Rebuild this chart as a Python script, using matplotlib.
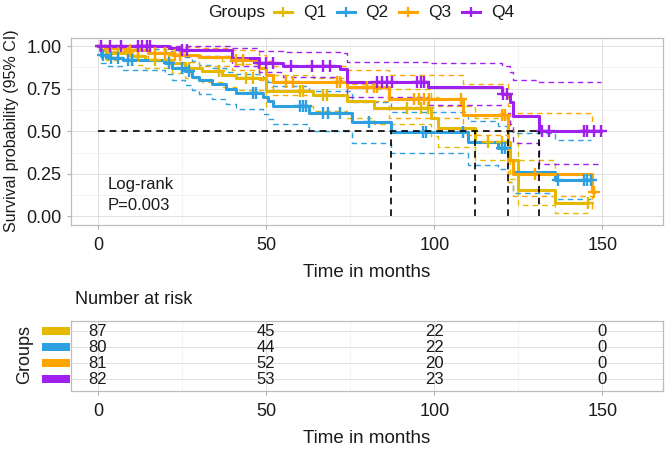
import matplotlib
matplotlib.use("Agg")
import matplotlib.pyplot as plt
import matplotlib.transforms as mtransforms
from matplotlib.patches import Rectangle
import numpy as np

plt.rcParams['font.family'] = ['Liberation Sans', 'DejaVu Sans']

groups = ['Q1', 'Q2', 'Q3', 'Q4']
colors = ['#E7B800', '#2E9FDF', '#FFA500', '#A020F0']

# Q1 step curve (time, survival, 95% CI)
q1_time = [0, 1, 2.5, 10, 14, 22, 26, 31, 37, 41, 50, 64, 74, 82, 99, 101, 112, 122.5, 124.8, 136]
q1_surv = [1.0, 0.975, 0.96, 0.94, 0.92, 0.90, 0.873, 0.853, 0.828, 0.81, 0.735, 0.71, 0.676, 0.635, 0.576, 0.52, 0.437, 0.33, 0.153, 0.078]
q1_lower = [1.0, 0.94, 0.92, 0.89, 0.87, 0.84, 0.81, 0.79, 0.76, 0.74, 0.65, 0.62, 0.58, 0.54, 0.47, 0.41, 0.33, 0.22, 0.07, 0.02]
q1_upper = [1.0, 1.0, 1.0, 0.99, 0.98, 0.965, 0.945, 0.93, 0.91, 0.895, 0.83, 0.81, 0.78, 0.75, 0.70, 0.65, 0.58, 0.50, 0.33, 0.25]
q1_end = 145.6
q1_censor = [4, 6, 9, 12, 17, 21, 27, 36, 44, 46, 60, 61, 67, 68, 92, 96, 98, 116, 120, 145.6]

# Q2
q2_time = [0, 0.5, 1, 3, 7.5, 20, 22, 26, 28, 30, 34, 38, 41, 49, 50.5, 52, 62.7, 75.5, 87, 110, 119, 122, 123.5, 136]
q2_surv = [1.0, 0.975, 0.95, 0.93, 0.92, 0.90, 0.873, 0.853, 0.82, 0.80, 0.775, 0.745, 0.725, 0.70, 0.675, 0.647, 0.61, 0.555, 0.497, 0.437, 0.40, 0.33, 0.26, 0.212]
q2_lower = [1.0, 0.94, 0.90, 0.88, 0.86, 0.835, 0.80, 0.77, 0.74, 0.72, 0.69, 0.66, 0.63, 0.60, 0.57, 0.54, 0.50, 0.43, 0.37, 0.30, 0.28, 0.20, 0.14, 0.10]
q2_upper = [1.0, 1.0, 1.0, 0.99, 0.98, 0.97, 0.95, 0.935, 0.91, 0.89, 0.87, 0.85, 0.835, 0.81, 0.79, 0.765, 0.735, 0.67, 0.615, 0.56, 0.53, 0.50, 0.49, 0.45]
q2_end = 146.5
q2_censor = [1.5, 4, 6, 9, 10, 21, 25, 27, 46, 47, 60, 61, 62, 67, 68.5, 72, 80.5, 96.5, 97.5, 108.5, 120, 121, 136.7, 144.5, 145.5, 146.5]

# Q3
q3_time = [0, 2, 8, 15, 22, 30, 40, 48, 50, 52, 74, 86.5, 108.5, 122, 123.5, 147]
q3_surv = [1.0, 0.99, 0.975, 0.96, 0.95, 0.935, 0.918, 0.87, 0.83, 0.79, 0.76, 0.69, 0.594, 0.33, 0.25, 0.143]
q3_lower = [1.0, 0.97, 0.94, 0.92, 0.905, 0.885, 0.86, 0.80, 0.76, 0.71, 0.68, 0.58, 0.48, 0.20, 0.12, 0.03]
q3_upper = [1.0, 1.0, 1.0, 1.0, 0.995, 0.99, 0.975, 0.945, 0.91, 0.88, 0.86, 0.83, 0.78, 0.65, 0.61, 0.55]
q3_end = 147.5
q3_censor = [1, 9.5, 12, 17, 20, 23, 24.5, 41, 43, 56, 58, 71, 72, 80, 82, 83, 94, 95.5, 97, 98.5, 108, 120, 121, 130, 147.5]

# Q4
q4_time = [0, 21, 24, 40, 48, 55, 72, 74, 98, 120, 122.5, 123.5, 131]
q4_surv = [1.0, 0.986, 0.975, 0.93, 0.90, 0.88, 0.863, 0.79, 0.757, 0.72, 0.67, 0.59, 0.50]
q4_lower = [1.0, 0.96, 0.94, 0.88, 0.845, 0.82, 0.80, 0.70, 0.655, 0.61, 0.54, 0.43, 0.31]
q4_upper = [1.0, 1.0, 1.0, 0.99, 0.97, 0.965, 0.957, 0.907, 0.898, 0.88, 0.85, 0.80, 0.79]
q4_end = 149.5
q4_censor = [1, 3.5, 7, 12, 13, 14.5, 15.5, 25, 26.5, 48, 50, 52, 57.5, 63.5, 67, 69, 83, 84.5, 86, 87.5,
             95, 96, 97, 120.5, 121.5, 132, 134, 144.5, 145.5, 147.5, 149.5]

risk_times = [0, 50, 100, 150]
risk_q1 = [87, 45, 22, 0]
risk_q2 = [80, 44, 22, 0]
risk_q3 = [81, 52, 20, 0]
risk_q4 = [82, 53, 23, 0]

curves = [
    (q1_time, q1_surv, q1_lower, q1_upper, q1_end, q1_censor, risk_q1),
    (q2_time, q2_surv, q2_lower, q2_upper, q2_end, q2_censor, risk_q2),
    (q3_time, q3_surv, q3_lower, q3_upper, q3_end, q3_censor, risk_q3),
    (q4_time, q4_surv, q4_lower, q4_upper, q4_end, q4_censor, risk_q4),
]

grid_major = '#E0E0E0'
grid_minor = '#EEEEEE'
border = '#BDBDBD'
txt = '#1A1A1A'


def step(ax, t, y, end, **kw):
    ax.step(list(t) + [end], list(y) + [y[-1]], where='post', **kw)


def style_axes(ax):
    ax.set_xlim(-8, 168)
    ax.set_xticks(risk_times)
    ax.set_xticks([25, 75, 125], minor=True)
    ax.grid(True, which='major', color=grid_major, lw=0.7)
    ax.grid(True, which='minor', color=grid_minor, lw=0.5)
    ax.set_axisbelow(True)
    for sp in ax.spines.values():
        sp.set_color(border)
        sp.set_linewidth(0.9)
    ax.tick_params(which='major', length=3, width=0.8, color='#B0B0B0',
                   labelsize=13, labelcolor=txt, pad=6)
    ax.tick_params(which='minor', length=0)


fig = plt.figure(figsize=(6.66, 4.53), dpi=100)
W, H = 666, 453
ax = fig.add_axes([71 / W, 1 - 225 / H, 592 / W, 187.5 / H])
style_axes(ax)
ax.tick_params(axis='y', pad=4)
ax.set_ylim(-0.05, 1.05)
ax.set_yticks([0, 0.25, 0.5, 0.75, 1.0])
ax.set_yticklabels(['0.00', '0.25', '0.50', '0.75', '1.00'])
ax.set_yticks([0.125, 0.375, 0.625, 0.875], minor=True)

medians = []
for (t, s, lo, hi, end, cens, _), col in zip(curves, colors):
    step(ax, t, lo, end, color=col, lw=1.0, ls=(0, (4, 3)), zorder=2)
    step(ax, t, hi, end, color=col, lw=1.0, ls=(0, (4, 3)), zorder=2)
for (t, s, lo, hi, end, cens, _), col in zip(curves, colors):
    step(ax, t, s, end, color=col, lw=2.2, zorder=3)
    idx = np.searchsorted(t, cens, side='right') - 1
    ax.plot(cens, np.array(s)[idx], ls='none', marker='+', ms=8.5, mew=1.7, color=col, zorder=4)
    below = [ti for ti, si in zip(t, s) if si <= 0.5]
    if below:
        medians.append(below[0])

ax.plot([0, max(medians)], [0.5, 0.5], color='black', lw=1.2, ls=(0, (4, 3)), zorder=5)
for m in medians:
    ax.plot([m, m], [0, 0.5], color='black', lw=1.2, ls=(0, (4, 3)), zorder=5)

ax.text(2.8, 0.185, 'Log-rank', fontsize=12, color=txt, va='center', ha='left')
ax.text(2.8, 0.062, 'P=0.003', fontsize=12, color=txt, va='center', ha='left')
ax.set_xlabel('Time in months', fontsize=13.5, color=txt, labelpad=7)
fig.text(12 / W, 1 - 131 / H, 'Survival probability (95% CI)', rotation=90,
         fontsize=11.5, color=txt, ha='center', va='center')

# legend row at the top
fig.text(208 / W, 1 - 12 / H, 'Groups', fontsize=12.5, color=txt, ha='left', va='center')
for i, (g, col) in enumerate(zip(groups, colors)):
    x0 = (274 + i * 62.6) / W
    y0 = 1 - 12 / H
    fig.add_artist(plt.Line2D([x0, x0 + 18 / W], [y0, y0], color=col, lw=2.2))
    fig.add_artist(plt.Line2D([x0 + 9 / W], [y0], color=col, marker='+', ms=7, mew=1.6))
    fig.text(x0 + 29 / W, y0, g, fontsize=12.5, color=txt, ha='left', va='center')

# number at risk table
ax2 = fig.add_axes([71 / W, 1 - 391 / H, 592 / W, 70 / H])
style_axes(ax2)
rows = [4, 3, 2, 1]
ax2.set_ylim(0.25, 4.625)
ax2.set_yticks(rows)
ax2.set_yticklabels([])
ax2.tick_params(axis='y', length=0)
ax2.set_xticks(risk_times)
for (t, s, lo, hi, end, cens, risk), row in zip(curves, rows):
    for rt, n in zip(risk_times, risk):
        ax2.text(rt, row, str(n), fontsize=12, color=txt, ha='center', va='center')
trans = mtransforms.blended_transform_factory(ax2.transAxes, ax2.transData)
for col, row in zip(colors, rows):
    ax2.add_patch(Rectangle((-29 / 592, row - 0.25), 28 / 592, 0.5, transform=trans,
                            color=col, clip_on=False, lw=0))
ax2.set_xlabel('Time in months', fontsize=13.5, color=txt, labelpad=7)
fig.text(75 / W, 1 - 299 / H, 'Number at risk', fontsize=13, color=txt, ha='left', va='center')
fig.text(25 / W, 1 - 355 / H, 'Groups', rotation=90, fontsize=13, color=txt, ha='center', va='center')

fig.savefig('out.png', dpi=100)
